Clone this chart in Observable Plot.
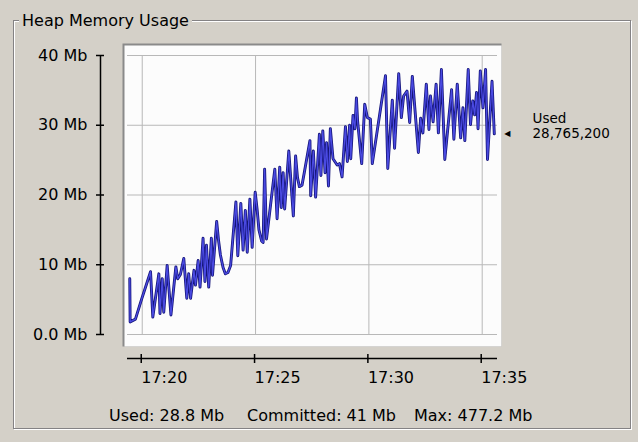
<!DOCTYPE html>
<html><head><meta charset="utf-8">
<script src="https://cdn.jsdelivr.net/npm/d3@7"></script>
<script src="https://cdn.jsdelivr.net/npm/@observablehq/plot@0.6"></script>
<style>
html,body{margin:0;padding:0;background:#d4d0c8;width:638px;height:442px;overflow:hidden;font-family:"DejaVu Sans",sans-serif;color:#000;}
#box{position:absolute;left:13px;top:20px;width:616px;height:407px;border:1px solid #848284;box-shadow:inset 1px 1px 0 #fff,1px 1px 0 #fff;}
#title{position:absolute;left:19px;top:13px;padding:0 3px;background:#d4d0c8;font-size:16px;line-height:16px;white-space:nowrap;}
#chart{position:absolute;left:0;top:0;}
.stat{position:absolute;top:408px;font-size:16px;line-height:16px;white-space:nowrap;}
</style></head>
<body>
<div id="box"></div>
<div id="title">Heap Memory Usage</div>
<div id="chart"></div>
<div class="stat" style="left:109px">Used: 28.8 Mb</div>
<div class="stat" style="left:247px">Committed: 41 Mb</div>
<div class="stat" style="left:414px">Max: 477.2 Mb</div>
<script>
// seconds after 17:19:00
const secs = [27,28,42,58,82,88,104,107,113,117,126,136,149,154,161,170,178,183,188,197,201,208,213,221,226,230,236,243,246,257,262,267,274,280,287,294,308,313,321,327,333,338,345,351,359,364,369,376,380,384,389,411,417,424,428,433,437,448,460,466,471,476,483,490,504,506,513,519,529,533,538,544,548,553,558,565,576,582,589,598,603,609,612,618,623,627,630,641,649,656,664,669,704,710,722,728,739,746,752,761,768,775,791,797,803,812,819,823,830,838,844,852,861,879,885,894,903,909,914,923,929,935,940,945,949,955,962,969,974,986,992];
// used heap, Mb
const usedMb = [8.0,1.8,2.2,5.0,9.0,2.5,8.7,3.0,8.0,3.2,9.9,2.8,9.7,8.0,8.6,10.9,5.2,8.7,5.2,9.2,7.1,10.6,6.8,13.8,7.6,12.8,6.8,13.8,8.5,16.2,13.5,11.4,9.6,8.7,8.9,9.9,19.0,11.3,18.8,12.1,17.8,11.8,19.4,12.5,20.4,18.0,15.0,13.4,13.2,23.7,13.7,23.7,16.6,24.0,18.2,23.2,18.0,26.3,17.0,25.6,22.5,21.2,21.4,23.5,27.8,19.9,26.3,19.7,28.7,22.8,29.2,23.2,27.5,21.3,29.5,25.2,24.3,24.5,22.6,29.8,24.8,30.0,25.2,31.4,29.5,33.9,30.7,24.5,33.0,31.1,30.9,24.5,37.1,23.8,33.6,26.7,37.4,31.1,34.2,34.9,30.4,37.0,26.1,31.0,28.9,35.9,29.4,34.2,30.5,35.9,28.9,38.0,25.1,35.1,28.0,35.9,28.2,32.5,27.8,38.0,30.1,33.5,31.5,34.7,29.5,37.8,32.5,38.0,25.1,36.3,28.77];
const xTickLabels = ["17:20","17:25","17:30","17:35"];
const yTicks = [0,10,20,30,40];
const yTickLabels = ["0.0 Mb","10 Mb","20 Mb","30 Mb","40 Mb"];
const xDomainSecs = [21, 1000.5];
const currentLabel = "Used";
const currentBytes = 28765200;
const currentMb = 28.77;

const toDate = s => new Date(2000, 0, 1, 17, 19, 0, Math.round(s * 1000));
const data = secs.map((s, i) => ({t: toDate(s), v: usedMb[i]}));
const tickDates = xTickLabels.map(l => { const [h, m] = l.split(":").map(Number); return new Date(2000, 0, 1, h, m, 0); });
const xLabel = d => xTickLabels[tickDates.findIndex(t => +t === +d)];
const yLabel = d => yTickLabels[yTicks.indexOf(d)];
const d0 = toDate(xDomainSecs[0]), d1 = toDate(xDomainSecs[1]);

const chart = Plot.plot({
  width: 638, height: 400,
  marginLeft: 127, marginRight: 141, marginTop: 55, marginBottom: 66,
  style: {background: "transparent", fontFamily: "DejaVu Sans", fontSize: "16px", color: "#000", overflow: "visible"},
  x: {type: "time", domain: [d0, d1], label: null},
  y: {domain: [0, 40], label: null},
  marks: [
    Plot.frame({fill: "#8a8a8a", insetLeft: -5, insetTop: -12, insetRight: -4, insetBottom: -12}),
    Plot.frame({fill: "#fcfcfc", insetLeft: -3, insetTop: -10, insetRight: -4, insetBottom: -12}),
    Plot.gridX(tickDates, {stroke: "#b8b8b8", strokeOpacity: 1}),
    Plot.gridY(yTicks, {stroke: "#b8b8b8", strokeOpacity: 1}),
    Plot.line(data, {x: "t", y: "v", stroke: "#15157a", strokeWidth: 2.9, strokeLinejoin: "round"}),
    Plot.line(data, {x: "t", y: "v", stroke: "#4a4ae2", strokeWidth: 1.3, strokeLinejoin: "round"}),
    Plot.ruleX([d0], {y1: 0, y2: 40, dx: -27, stroke: "#000", strokeWidth: 1.5}),
    Plot.axisY(yTicks, {tickFormat: yLabel, tickSize: 8, tickPadding: 9, dx: -23, fontSize: 16, strokeWidth: 1.5, label: null}),
    Plot.ruleY([0], {x1: d0, x2: d1, dy: 24, stroke: "#000", strokeWidth: 1.5}),
    Plot.axisX(tickDates, {tickFormat: xLabel, tickSize: 9, tickPadding: 8, dy: 20, textAnchor: "start", dx: -1, fontSize: 16, strokeWidth: 1.5, label: null}),
    Plot.text([currentMb], {y: d => d, frameAnchor: "right", text: () => "◀", dx: 13, fontSize: 8, fill: "#000"}),
    Plot.text([currentMb], {y: d => d, frameAnchor: "right", text: () => currentLabel + "\n" + d3.format(",")(currentBytes), dx: 35, dy: -8, textAnchor: "start", lineAnchor: "middle", fontSize: 13.5, lineHeight: 1.1, fill: "#000"})
  ]
});
document.getElementById("chart").appendChild(chart);
</script>
</body></html>
